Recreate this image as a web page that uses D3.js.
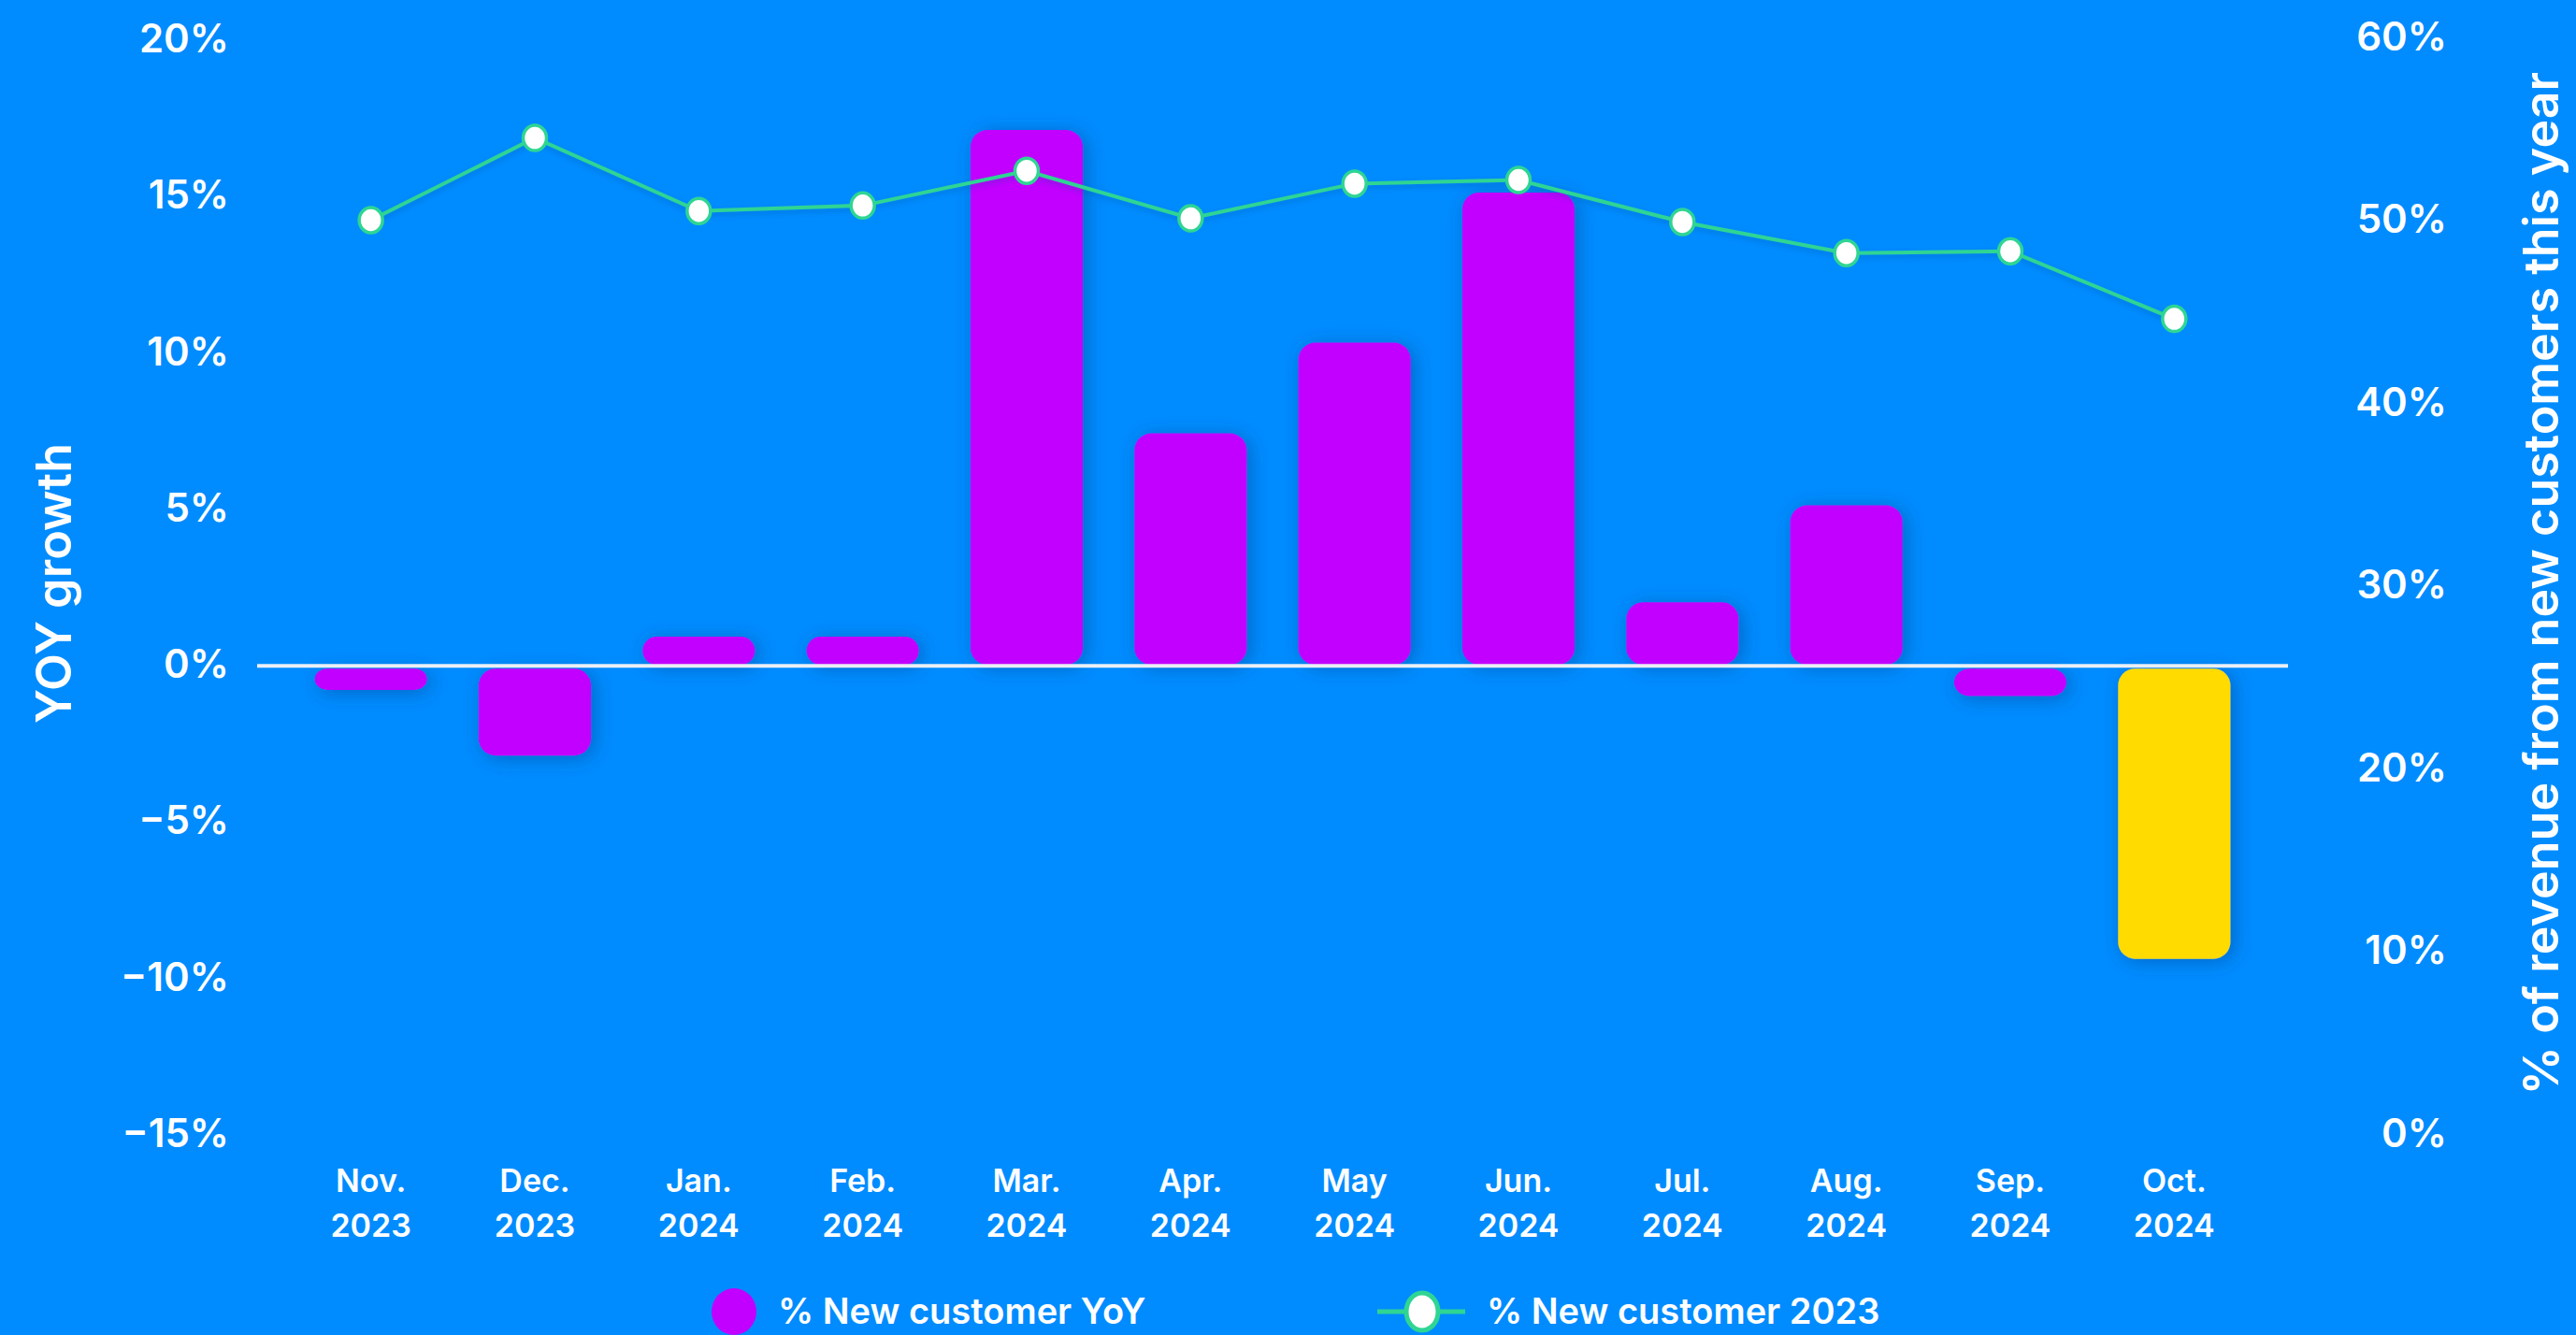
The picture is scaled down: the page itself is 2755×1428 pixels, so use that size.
<!DOCTYPE html>
<html>
<head>
<meta charset="utf-8">
<script src="https://cdn.jsdelivr.net/npm/d3@7"></script>
<style>
  html, body { margin: 0; padding: 0; background: #008cff; overflow: hidden; }
  svg { display: block; }
  text { font-family: Inter, "Noto Sans", sans-serif; fill: #ffffff; }
</style>
</head>
<body>
<svg id="chart" width="2755" height="1428"></svg>
<script>
// Monthly categories (two-line labels)
const months = ["Nov.", "Dec.", "Jan.", "Feb.", "Mar.", "Apr.", "May", "Jun.", "Jul.", "Aug.", "Sep.", "Oct."];
const years  = ["2023", "2023", "2024", "2024", "2024", "2024", "2024", "2024", "2024", "2024", "2024", "2024"];

// % new customer revenue, year-over-year growth (left axis)
const yoyGrowth = [-0.8, -2.9, 0.9, 0.9, 17.1, 7.4, 10.3, 15.1, 2.0, 5.1, -1.0, -9.4];

// % of revenue from new customers in 2023 (right axis)
const newCustomer2023 = [50.0, 54.5, 50.5, 50.8, 52.7, 50.1, 52.0, 52.2, 49.9, 48.2, 48.3, 44.6];

// Axis ticks
const leftTicks  = [-15, -10, -5, 0, 5, 10, 15, 20];
const rightTicks = [0, 10, 20, 30, 40, 50, 60];

// Legend entries
const legendLabels = ["% New customer YoY", "% New customer 2023"];

const PURPLE = "#c200ff", YELLOW = "#ffdb00", GREEN = "#2fd593";

const svg = d3.select("#chart");
const keys = months.map((m, i) => m + " " + years[i]);

const x = d3.scaleBand()
  .domain(keys)
  .range([309, 2413])
  .paddingInner(0.315)
  .paddingOuter(0.1575);

const yLeft = d3.scaleLinear().domain([-15, 20]).range([1213, 42]);
const yRight = d3.scaleLinear().domain([0, 60]).range([1213, 40]);

const defs = svg.append("defs");
const shadow = defs.append("filter").attr("id", "barShadow")
  .attr("x", "-30%").attr("y", "-30%").attr("width", "160%").attr("height", "160%");
shadow.append("feDropShadow")
  .attr("dx", 4).attr("dy", 3).attr("stdDeviation", 10)
  .attr("flood-color", "#003f8f").attr("flood-opacity", 0.5);

const lineShadow = defs.append("filter").attr("id", "lineShadow")
  .attr("x", "-20%").attr("y", "-20%").attr("width", "140%").attr("height", "160%");
lineShadow.append("feDropShadow")
  .attr("dx", 0).attr("dy", 3).attr("stdDeviation", 3)
  .attr("flood-color", "#004a99").attr("flood-opacity", 0.35);

// Left axis labels
const fmtL = d => (d < 0 ? "\u2212" + Math.abs(d) : d) + "%";
const gL = svg.append("g").attr("transform", "translate(245,0)")
  .call(d3.axisLeft(yLeft).tickValues(leftTicks).tickSize(0).tickPadding(0).tickFormat(fmtL));
gL.select(".domain").remove();
gL.selectAll("text").attr("fill", "#fff").style("font-size", "42px").style("font-weight", 600)
  .style("font-family", "Inter, sans-serif");

// Right axis labels (right-aligned)
const gR = svg.append("g").attr("transform", "translate(2617,0)")
  .call(d3.axisRight(yRight).tickValues(rightTicks).tickSize(0).tickPadding(0).tickFormat(d => d + "%"));
gR.select(".domain").remove();
gR.selectAll("text").attr("fill", "#fff").attr("text-anchor", "end").attr("x", 0)
  .style("font-size", "42px").style("font-weight", 600).style("font-family", "Inter, sans-serif");

// Bars
const barR = 18;
const bars = svg.append("g").attr("filter", "url(#barShadow)");
bars.selectAll("rect").data(yoyGrowth).join("rect")
  .attr("x", (d, i) => x(keys[i]))
  .attr("width", x.bandwidth())
  .attr("y", d => d >= 0 ? yLeft(d) : yLeft(0) + 4)
  .attr("height", d => Math.max(0, Math.abs(yLeft(d) - yLeft(0)) - (d >= 0 ? 0 : 4)))
  .attr("rx", d => Math.min(barR, Math.abs(yLeft(d) - yLeft(0)) / 2))
  .attr("ry", d => Math.min(barR, Math.abs(yLeft(d) - yLeft(0)) / 2))
  .attr("fill", (d, i) => i === yoyGrowth.length - 1 ? YELLOW : PURPLE);

// Zero line
svg.append("line")
  .attr("x1", 275).attr("x2", 2447)
  .attr("y1", yLeft(0) + 1).attr("y2", yLeft(0) + 1)
  .attr("stroke", "#e9eef5").attr("stroke-width", 4);

// Line series on right axis
const cx = i => x(keys[i]) + x.bandwidth() / 2;
const line = d3.line().x((d, i) => cx(i)).y(d => yRight(d));
const lineG = svg.append("g");
lineG.append("path").datum(newCustomer2023)
  .attr("d", line)
  .attr("fill", "none").attr("stroke", GREEN).attr("stroke-width", 4)
  .attr("filter", "url(#lineShadow)");
lineG.selectAll("ellipse").data(newCustomer2023).join("ellipse")
  .attr("cx", (d, i) => cx(i)).attr("cy", d => yRight(d))
  .attr("rx", 12.5).attr("ry", 13.5)
  .attr("fill", "#fff").attr("stroke", GREEN).attr("stroke-width", 3.5);

// X axis labels, two lines
const xl = svg.append("g").selectAll("text").data(keys).join("text")
  .attr("text-anchor", "middle")
  .style("font-size", "34px").style("font-weight", 600);
xl.append("tspan").attr("x", (d, i) => cx(i)).attr("y", 1275).text((d, i) => months[i]);
xl.append("tspan").attr("x", (d, i) => cx(i)).attr("y", 1323).text((d, i) => years[i]);

// Axis titles
svg.append("text")
  .attr("transform", "translate(76,624) rotate(-90)")
  .attr("text-anchor", "middle")
  .style("font-size", "52px").style("font-weight", 600)
  .text("YOY growth");
svg.append("text")
  .attr("transform", "translate(2736,624) rotate(-90)")
  .attr("text-anchor", "middle")
  .style("font-size", "52px").style("font-weight", 600)
  .text("% of revenue from new customers this year");

// Legend
const lg = svg.append("g");
lg.append("ellipse").attr("cx", 785).attr("cy", 1403).attr("rx", 24).attr("ry", 25).attr("fill", PURPLE);
lg.append("text").attr("x", 832).attr("y", 1416)
  .style("font-size", "38px").style("font-weight", 600).text(legendLabels[0]);
lg.append("line").attr("x1", 1473).attr("x2", 1567).attr("y1", 1403).attr("y2", 1403)
  .attr("stroke", GREEN).attr("stroke-width", 5);
lg.append("ellipse").attr("cx", 1521).attr("cy", 1403).attr("rx", 17).attr("ry", 20)
  .attr("fill", "#fff").attr("stroke", GREEN).attr("stroke-width", 5);
lg.append("text").attr("x", 1590).attr("y", 1416)
  .style("font-size", "38px").style("font-weight", 600).text(legendLabels[1]);
</script>
</body>
</html>
